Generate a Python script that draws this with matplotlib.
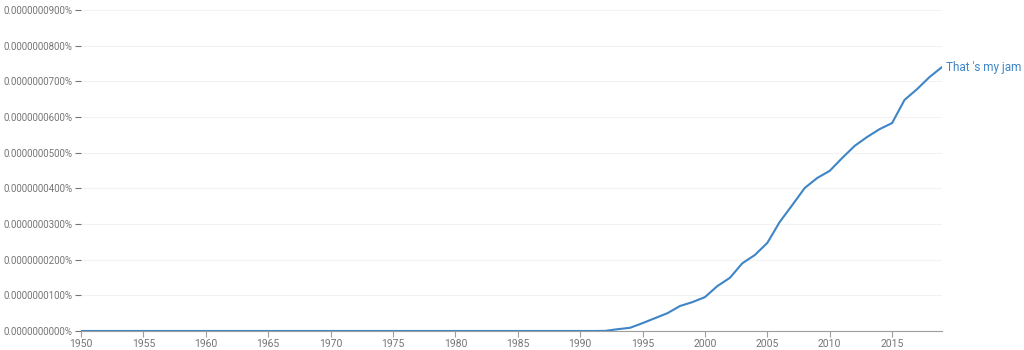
import matplotlib

matplotlib.use("Agg")
import matplotlib.pyplot as plt
from matplotlib.ticker import FuncFormatter, MultipleLocator

plt.rcParams["font.family"] = ["Roboto", "DejaVu Sans"]

# values in units of 1e-10 percent
years = list(range(1950, 2020))
values = [0.0] * 42 + [
    0.3, 5, 9, 22, 36, 50, 70, 81, 95, 126,
    149, 190, 213, 247, 306, 353, 401, 429, 449, 485,
    519, 544, 566, 583, 648, 678, 712, 740,
]
series_label = "That 's my jam"
y_ticks = list(range(0, 1000, 100))

LINE = "#3d85c6"
GREY = "#757575"

fig = plt.figure(figsize=(10.24, 3.5), dpi=100)
ax = fig.add_axes([81 / 1024, 1 - 331 / 350, (942 - 81) / 1024, (331 - 10) / 350])

ax.plot(years, values, color=LINE, lw=1.5, solid_capstyle="round")
ax.text(years[-1] + 0.35, values[-1], series_label, color=LINE, fontsize=8.5,
        va="center", ha="left")

ax.set_xlim(1950, 2019)
ax.set_ylim(0, 900)
ax.set_yticks(y_ticks)
ax.xaxis.set_major_locator(MultipleLocator(5))
ax.yaxis.set_major_formatter(FuncFormatter(lambda v, p: f"{v * 1e-10:.10f}%"))

ax.grid(axis="y", color="#f2f2f2", lw=0.8)
ax.set_axisbelow(True)
for s in ("top", "right", "left"):
    ax.spines[s].set_visible(False)
ax.spines["bottom"].set_color("#9e9e9e")
ax.tick_params(axis="y", length=4, width=0.8, color=GREY, labelcolor=GREY,
               labelsize=7, pad=2)
ax.tick_params(axis="x", length=4, width=0.8, color="#9e9e9e", labelcolor=GREY,
               labelsize=7.5, pad=1.5)

fig.savefig("out.png", dpi=100)
